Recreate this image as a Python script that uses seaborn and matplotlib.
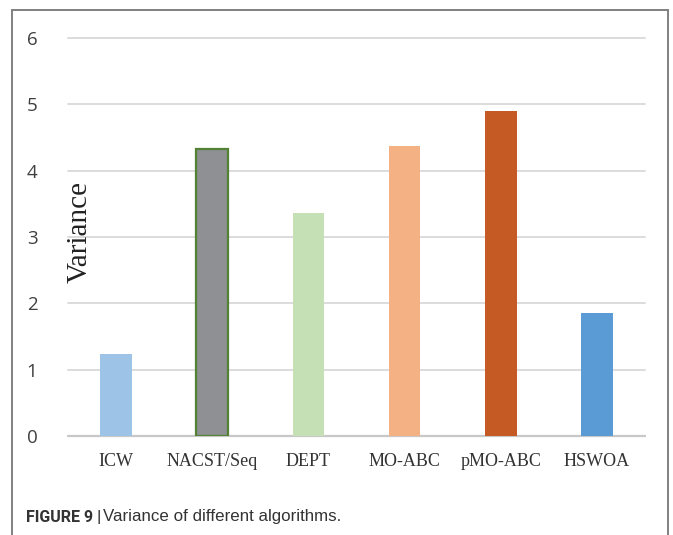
import matplotlib
matplotlib.use("Agg")
import matplotlib.pyplot as plt
import seaborn as sns
import pandas as pd
from matplotlib.patches import Rectangle

categories = ["ICW", "NACST/Seq", "DEPT", "MO-ABC", "pMO-ABC", "HSWOA"]
variance = [1.24, 4.33, 3.36, 4.37, 4.90, 1.86]
colors = ["#9DC3E6", "#8E9094", "#C5E0B4", "#F4B183", "#C55A24", "#5B9BD5"]
y_ticks = [0, 1, 2, 3, 4, 5, 6]

sns.set_style("white")
df = pd.DataFrame({"alg": categories, "var": variance})

fig = plt.figure(figsize=(6.73, 5.35), dpi=100)
ax = fig.add_axes([68/673, 1-436/535, (645-68)/673, (436-38)/535])

sns.barplot(data=df, x="alg", y="var", hue="alg", palette=colors, width=0.33,
            legend=False, ax=ax, saturation=1, zorder=3)

for p in ax.patches:
    p.set_linewidth(0)
ax.patches[1].set_edgecolor("#548235")
ax.patches[1].set_linewidth(1.6)

ax.set_ylim(0, 6)
ax.set_xlim(-0.5, 5.5)
ax.set_yticks(y_ticks)
ax.yaxis.grid(True, color="#D9D9D9", linewidth=1.3, zorder=0)
for gl in ax.get_ygridlines():
    gl.set_clip_on(False)
ax.set_axisbelow(True)
ax.axhline(0, color="#C8C8C8", linewidth=1.6, zorder=2, clip_on=False)
for s in ax.spines.values():
    s.set_visible(False)
ax.tick_params(axis="both", length=0)
ax.tick_params(axis="y", pad=22)
ax.tick_params(axis="x", pad=12)
for lab in ax.get_yticklabels():
    lab.set_fontfamily("Open Sans")
    lab.set_fontsize(13.5)
    lab.set_color("#404040")
for lab in ax.get_xticklabels():
    lab.set_fontfamily("Liberation Serif")
    lab.set_fontsize(13)
    lab.set_color("#333333")
ax.set_xlabel("")
ax.set_ylabel("")

fig.text(80/673, 1-232/535, "Variance", rotation=90, ha="center", va="center",
         fontsize=21, family="Liberation Serif", color="#222222")

fig.patches.append(Rectangle((12/673, -0.05), (668-12)/673, 1.05-10/535,
                             transform=fig.transFigure, fill=False,
                             edgecolor="#808080", linewidth=1.4))

fig.text(26/673, 1-517/535, "FIGURE 9 |", fontsize=11.5, fontweight="bold",
         family="Roboto", color="#333333", va="center", ha="left")
fig.text(103/673, 1-517/535, "Variance of different algorithms.", fontsize=12.2,
         family="Liberation Sans", color="#333333", va="center", ha="left")

fig.savefig("out.png", dpi=100)
